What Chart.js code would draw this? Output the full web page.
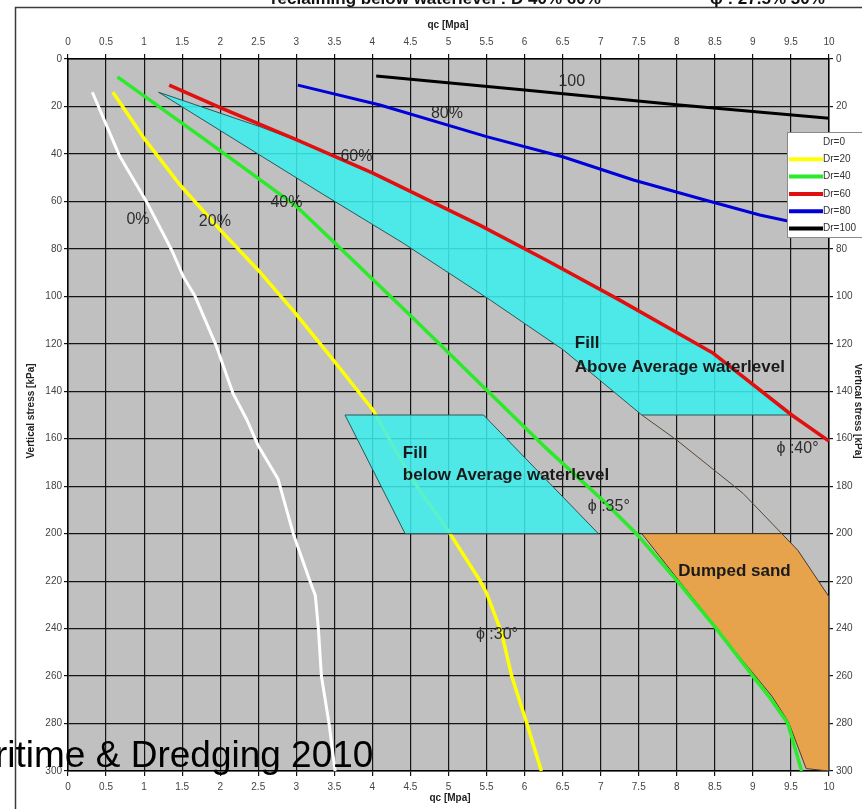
<!DOCTYPE html>
<html>
<head>
<meta charset="utf-8">
<script src="https://cdn.jsdelivr.net/npm/chart.js@4.4.1/dist/chart.umd.min.js"></script>
<style>
  html, body { margin: 0; padding: 0; background: #fff; }
  #wrap { width: 862px; height: 809px; position: relative; }
</style>
</head>
<body>
<div id="wrap"><canvas id="c" width="862" height="809"></canvas></div>
<script>
// Cone resistance qc [MPa] against vertical stress [kPa] for relative densities Dr.

// axis tick labels
const qcTicks = [0, 0.5, 1, 1.5, 2, 2.5, 3, 3.5, 4, 4.5, 5, 5.5, 6, 6.5, 7, 7.5, 8, 8.5, 9, 9.5, 10];
const stressTicks = [0, 20, 40, 60, 80, 100, 120, 140, 160, 180, 200, 220, 240, 260, 280, 300];

// series: [qc, vertical stress]
const dr0 = [[0.32, 14], [0.68, 41], [1.03, 60], [1.37, 81], [1.52, 92], [1.67, 100], [1.95, 121], [2.17, 141],
  [2.35, 152], [2.5, 163], [2.76, 177], [2.96, 200], [3.18, 220], [3.25, 226], [3.29, 240], [3.33, 260],
  [3.43, 280], [3.51, 300]];
const dr20 = [[0.59, 14], [0.99, 33], [1.47, 53], [2.0, 72], [2.5, 89], [2.96, 106], [3.44, 125], [4.01, 148],
  [4.5, 176], [5.02, 200], [5.41, 219.6], [5.5, 225], [5.7, 242], [5.83, 260], [6.03, 280], [6.22, 300]];
const dr40 = [[0.65, 7.5], [1.8, 34], [3.0, 62], [3.75, 85], [4.53, 109], [5.5, 139.5], [6.25, 163], [7.03, 186],
  [7.47, 200], [8.02, 220.5], [8.52, 240], [9.0, 260], [9.22, 269], [9.46, 280], [9.64, 300]];
const dr60 = [[1.33, 11], [2.0, 20.5], [3.0, 34], [4.0, 48], [5.41, 70], [6.3, 85], [7.25, 101.6], [8.48, 124],
  [9.51, 150], [10, 161]];
const dr80 = [[3.02, 11], [4.1, 19.4], [5.5, 32.7], [6.5, 41.2], [7.43, 51], [8.37, 59.4], [9.09, 65.7], [10, 72]];
const dr100 = [[4.05, 7.2], [6.0, 13.1], [8.0, 19.3], [10, 25]];

// zones: closed outlines [qc, vertical stress]
const fillAbove = [[1.19, 14], [2.52, 28.5], [3.0, 34.3], [4.0, 48.3], [5.41, 70.3], [6.3, 85.3], [7.25, 101.9],
  [8.48, 124.3], [9.51, 150], [7.54, 150], [6.51, 122.6], [5.55, 101.6], [4.4, 77.5], [3.3, 56], [1.19, 14]];
const fillBelow = [[3.64, 150], [5.46, 150], [6.97, 200], [4.43, 200], [3.64, 150]];
const dumpedSand = [[7.54, 200], [9.38, 200], [9.59, 207], [10, 226.6], [10, 300], [9.7, 299], [9.47, 279.5],
  [9.25, 268.5], [9.02, 259.5], [8.75, 249], [8.52, 239.5], [8.02, 219.5], [7.54, 200]];
const zoneEdge = [[7.54, 150], [8.0, 160.6], [8.87, 183], [9.38, 200]];

const legendNames = ['Dr=0', 'Dr=20', 'Dr=40', 'Dr=60', 'Dr=80', 'Dr=100'];

const FONT = "'Liberation Sans', Arial, Helvetica, sans-serif";
const pts = a => a.map(p => ({ x: p[0], y: p[1] }));

function curve(label, arr, color, width, order) {
  return { label, data: pts(arr), borderColor: color, backgroundColor: color, borderWidth: width,
    fill: false, order, pointRadius: 0, tension: 0 };
}
function zone(label, arr, fillColor, edgeColor, order) {
  return { label, data: pts(arr), borderColor: edgeColor, backgroundColor: fillColor, borderWidth: 1,
    fill: 'shape', order, pointRadius: 0, tension: 0 };
}

const datasets = [
  curve('Dr=100', dr100, '#000000', 3, 1),
  curve('Dr=80', dr80, '#0000d8', 3, 2),
  curve('Dr=60', dr60, '#e01010', 3.5, 3),
  curve('Dr=40', dr40, '#2aea2a', 3.5, 4),
  curve('edge', zoneEdge, '#5a4632', 1, 5),
  zone('Dumped sand', dumpedSand, '#e7a24c', '#4a3a2a', 6),
  zone('Fill above', fillAbove, 'rgba(60,237,237,0.88)', '#2f5656', 7),
  zone('Fill below', fillBelow, 'rgba(60,237,237,0.85)', '#2f5656', 8),
  curve('Dr=20', dr20, '#ffff00', 3.5, 9),
  curve('Dr=0', dr0, '#ffffff', 3, 10)
];

// text drawn on the plot, placed in data units
const notes = [
  { t: '0%', x: 0.92, y: 67.8, align: 'center', bold: false, size: 16 },
  { t: '20%', x: 1.93, y: 68.3, align: 'center', bold: false, size: 16 },
  { t: '40%', x: 2.87, y: 60.7, align: 'center', bold: false, size: 16 },
  { t: '60%', x: 3.79, y: 41.2, align: 'center', bold: false, size: 16 },
  { t: '80%', x: 4.98, y: 22.9, align: 'center', bold: false, size: 16 },
  { t: '100', x: 6.62, y: 9.6, align: 'center', bold: false, size: 16 },
  { t: '\u03d5 :40\u00b0', x: 9.31, y: 164.3, align: 'left', bold: false, size: 16 },
  { t: '\u03d5 :35\u00b0', x: 6.83, y: 188.4, align: 'left', bold: false, size: 16 },
  { t: '\u03d5 :30\u00b0', x: 5.36, y: 242.7, align: 'left', bold: false, size: 16 },
  { t: 'Fill', x: 6.66, y: 119.7, align: 'left', bold: true, size: 17 },
  { t: 'Above Average waterlevel', x: 6.66, y: 129.7, align: 'left', bold: true, size: 17 },
  { t: 'Fill', x: 4.40, y: 166, align: 'left', bold: true, size: 17 },
  { t: 'below Average waterlevel', x: 4.40, y: 175.3, align: 'left', bold: true, size: 17 },
  { t: 'Dumped sand', x: 8.02, y: 216, align: 'left', bold: true, size: 17 }
];

const backdrop = {
  id: 'backdrop',
  beforeDraw(chart) {
    const { ctx, chartArea: a } = chart;
    ctx.save();
    ctx.fillStyle = '#ffffff';
    ctx.fillRect(0, 0, chart.width, chart.height);
    ctx.fillStyle = '#c0c0c0';
    ctx.fillRect(a.left, a.top, a.right - a.left, a.bottom - a.top);
    // outer frame
    ctx.strokeStyle = '#3a3a3a';
    ctx.lineWidth = 1.5;
    ctx.beginPath();
    ctx.moveTo(15.5, chart.height);
    ctx.lineTo(15.5, 7.5);
    ctx.lineTo(chart.width, 7.5);
    ctx.stroke();
    // heading line
    ctx.fillStyle = '#111';
    ctx.font = 'bold 17px ' + FONT;
    ctx.textBaseline = 'alphabetic';
    ctx.textAlign = 'left';
    ctx.fillText('reclaiming below waterlevel : D 40% 60%', 271, 4);
    ctx.fillText('\u03d5 : 27.5% 30%', 710, 4);
    ctx.restore();
  }
};

const overlay = {
  id: 'overlay',
  afterDatasetsDraw(chart) {
    const { ctx } = chart;
    const sx = chart.scales.x, sy = chart.scales.y;
    ctx.save();
    notes.forEach(n => {
      ctx.font = (n.bold ? 'bold ' : '') + n.size + 'px ' + FONT;
      ctx.fillStyle = n.bold ? '#1a1a1a' : '#2e2e2e';
      ctx.textAlign = n.align;
      ctx.textBaseline = 'middle';
      ctx.fillText(n.t, sx.getPixelForValue(n.x), sy.getPixelForValue(n.y));
    });

    // legend box
    const lx = 787, ly = 132, lw = 90, lh = 105;
    ctx.fillStyle = '#ffffff';
    ctx.fillRect(lx, ly, lw, lh);
    ctx.strokeStyle = '#8a8a8a';
    ctx.lineWidth = 1;
    ctx.strokeRect(lx + 0.5, ly + 0.5, lw, lh);
    ctx.font = '10px ' + FONT;
    ctx.textAlign = 'left';
    ctx.textBaseline = 'middle';
    legendNames.forEach((name, i) => {
      const ds = chart.data.datasets.find(d => d.label === name);
      const yy = ly + 10 + i * 17.3;
      ctx.strokeStyle = ds.borderColor;
      ctx.lineWidth = 4;
      ctx.beginPath();
      ctx.moveTo(lx + 2, yy);
      ctx.lineTo(lx + 36, yy);
      ctx.stroke();
      ctx.fillStyle = '#333';
      ctx.fillText(name, lx + 36, yy);
    });

    // axis titles
    ctx.fillStyle = '#222';
    ctx.font = 'bold 10px ' + FONT;
    ctx.textAlign = 'center';
    ctx.fillText('qc [Mpa]', 448, 25);
    ctx.fillText('qc [Mpa]', 450, 798);
    ctx.save();
    ctx.translate(31, 411);
    ctx.rotate(-Math.PI / 2);
    ctx.fillText('Vertical stress [kPa]', 0, 0);
    ctx.restore();
    ctx.save();
    ctx.translate(858, 411);
    ctx.rotate(Math.PI / 2);
    ctx.fillText('Vertical stress [kPa]', 0, 0);
    ctx.restore();
    ctx.restore();
  },
  afterDraw(chart) {
    const { ctx } = chart;
    ctx.save();
    ctx.fillStyle = '#000';
    ctx.font = '37px ' + FONT;
    ctx.textAlign = 'left';
    ctx.textBaseline = 'alphabetic';
    ctx.fillText('ritime & Dredging 2010', -5, 767);
    ctx.restore();
  }
};

const tickFont = { family: FONT, size: 10 };
const tickFmt = v => String(v);

function qcAxis(position, height, pad, onArea) {
  return {
    type: 'linear', axis: 'x', position, min: 0, max: 10,
    afterBuildTicks: s => { s.ticks = qcTicks.map(v => ({ value: v })); },
    afterFit: s => { s.height = height; },
    grid: { color: '#151515', lineWidth: 1.2, tickLength: 5, drawTicks: true, drawOnChartArea: onArea },
    border: { display: true, color: '#000', width: 1.5 },
    ticks: { padding: pad, color: '#444', font: tickFont, maxRotation: 0, autoSkip: false, callback: tickFmt }
  };
}
function stressAxis(position, width, pad, onArea) {
  return {
    type: 'linear', axis: 'y', position, min: 0, max: 300, reverse: true,
    afterBuildTicks: s => { s.ticks = stressTicks.map(v => ({ value: v })); },
    afterFit: s => { s.width = width; },
    grid: { color: '#151515', lineWidth: 1.2, tickLength: 4, drawTicks: true, drawOnChartArea: onArea },
    border: { display: true, color: '#000', width: 1.5 },
    ticks: { padding: pad, color: '#444', font: tickFont, autoSkip: false, callback: tickFmt }
  };
}

new Chart(document.getElementById('c'), {
  type: 'line',
  data: { datasets },
  options: {
    responsive: false,
    animation: false,
    layout: { padding: 0 },
    elements: { point: { radius: 0, hoverRadius: 0 }, line: { borderJoinStyle: 'round', borderCapStyle: 'butt' } },
    plugins: {
      legend: { display: false },
      tooltip: { enabled: false },
      filler: { drawTime: 'beforeDatasetDraw' }
    },
    scales: {
      x: qcAxis('bottom', 38, 5, true),
      xTop: qcAxis('top', 59, 6, false),
      y: stressAxis('left', 68, 2, true),
      yRight: stressAxis('right', 33, 3, false)
    }
  },
  plugins: [backdrop, overlay]
});
</script>
</body>
</html>
